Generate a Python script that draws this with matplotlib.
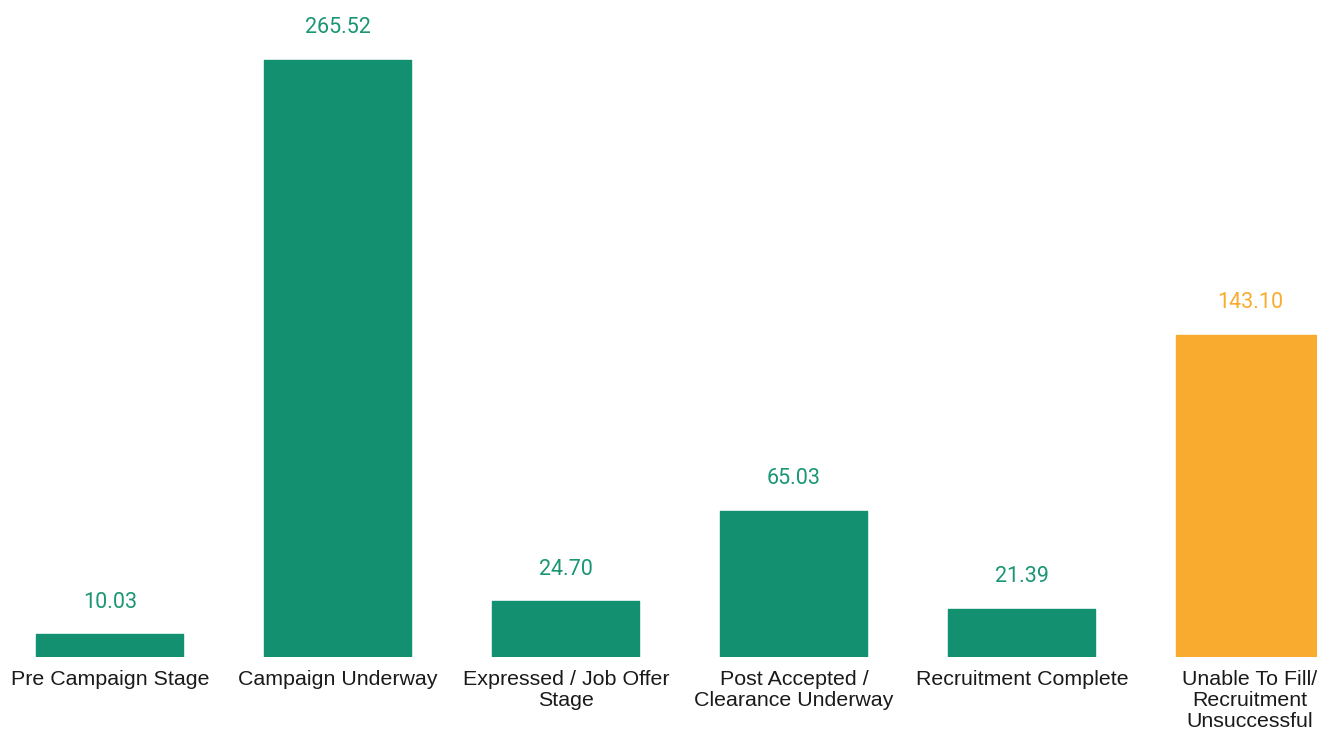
import matplotlib
matplotlib.use("Agg")
import matplotlib.pyplot as plt

categories = [
    "Pre Campaign Stage",
    "Campaign Underway",
    "Expressed / Job Offer\nStage",
    "Post Accepted /\nClearance Underway",
    "Recruitment Complete",
    "Unable To Fill/\nRecruitment\nUnsuccessful",
]
values = [10.03, 265.52, 24.70, 65.03, 21.39, 143.10]
value_labels = ["10.03", "265.52", "24.70", "65.03", "21.39", "143.10"]

GREEN = "#13906f"
ORANGE = "#f9ab2f"
colors = [GREEN, GREEN, GREEN, GREEN, GREEN, ORANGE]
label_colors = ["#1a9675", "#1a9675", "#1a9675", "#1a9675", "#1a9675", "#f9ab2f"]

fig = plt.figure(figsize=(13.17, 7.30), dpi=100)
ax = fig.add_axes([0, 0.1, 1, 0.9])

x = list(range(len(categories)))
bars = ax.bar(x, values, width=0.645, color=colors, edgecolor=colors,
              linewidth=1.0, joinstyle="round", zorder=2)

for xi, v, lab, c in zip(x, values, value_labels, label_colors):
    ax.annotate(lab, (xi, v), xytext=(0, 23.3), textcoords="offset points",
                ha="center", va="center", fontsize=15.5, color=c,
                family="Roboto")

ax.set_xlim(-0.482, 5.294)
ax.set_ylim(0, 292.0)
ax.set_xticks(x)
ax.set_xticklabels(categories, fontsize=15.4, family="Liberation Sans",
                   color="#1a1a1a", linespacing=1.15)
ax.tick_params(axis="x", length=0, pad=9.2)
ax.set_yticks([])
for s in ax.spines.values():
    s.set_visible(False)

fig.savefig("out.png", dpi=100)
